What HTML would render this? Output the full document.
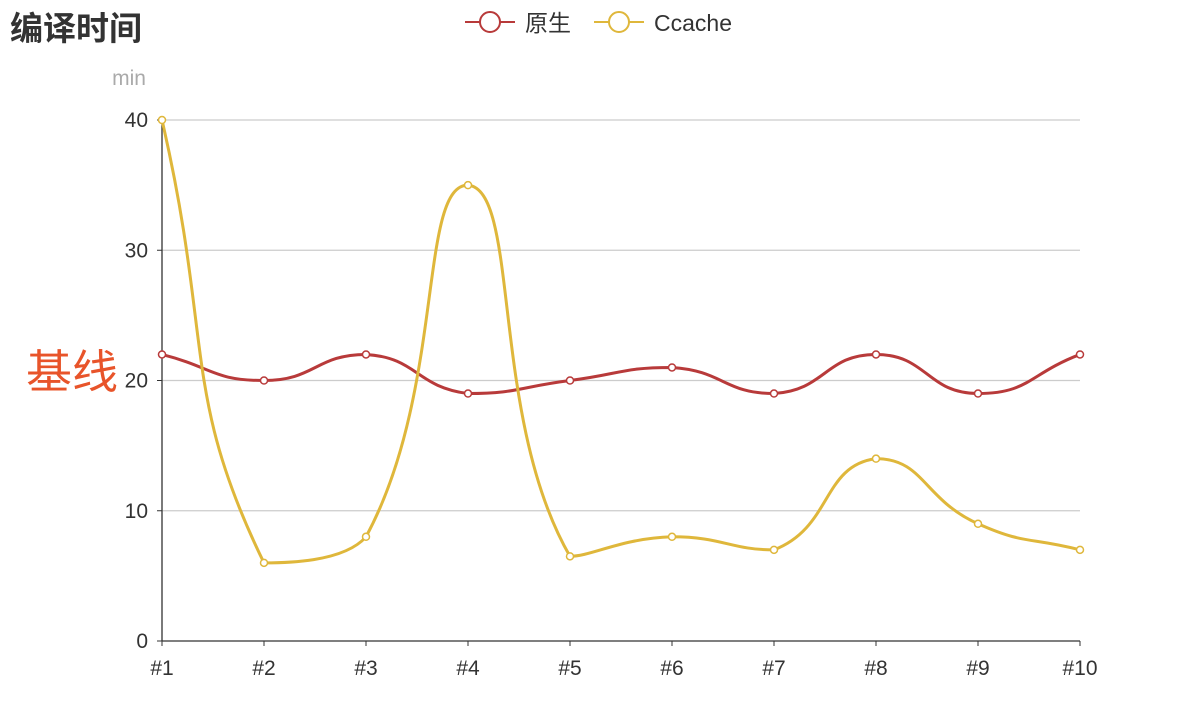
<!DOCTYPE html>
<html><head><meta charset="utf-8"><style>
html,body{margin:0;padding:0;background:#fff;width:1194px;height:714px;overflow:hidden}
svg{display:block;font-family:"Liberation Sans","Noto Sans CJK SC",sans-serif}
</style></head><body>
<svg id="chart" width="1194" height="714">
<text x="10" y="40" font-size="33" font-weight="bold" fill="#333">编译时间</text>
<g>
 <g>
  <line x1="465" y1="22" x2="515" y2="22" stroke="#b83a3a" stroke-width="2"/>
  <circle cx="490" cy="22" r="10" fill="#fff" stroke="#b83a3a" stroke-width="2"/>
  <text x="525" y="31" font-size="23" fill="#333">原生</text>
 </g>
 <g>
  <line x1="594" y1="22" x2="644" y2="22" stroke="#dfb73b" stroke-width="2"/>
  <circle cx="619" cy="22" r="10" fill="#fff" stroke="#dfb73b" stroke-width="2"/>
  <text x="654" y="31" font-size="23" fill="#333">Ccache</text>
 </g>
</g>
<text x="129" y="85" font-size="21" fill="#aaa" text-anchor="middle">min</text>
<text x="26" y="388" font-size="46" fill="#e8542a">基线</text>
<g id="grid"></g><g id="axes"></g><g id="series"></g>
</svg>
<script>
const categories=["#1","#2","#3","#4","#5","#6","#7","#8","#9","#10"];
const nativeValues=[22,20,22,19,20,21,19,22,19,22];
const ccacheValues=[40,6,8,35,6.5,8,7,14,9,7];
const yTicks=[0,10,20,30,40];
const NS="http://www.w3.org/2000/svg";
const X0=162,X1=1080,Y0=641,Y1=120,YMAX=40;
const xs=i=>X0+(X1-X0)*i/(categories.length-1);
const ys=v=>Y0-(Y0-Y1)*v/YMAX;
function mk(tag,attrs,parent){const e=document.createElementNS(NS,tag);for(const k in attrs)e.setAttribute(k,attrs[k]);parent.appendChild(e);return e;}
const grid=document.getElementById('grid'),axes=document.getElementById('axes'),ser=document.getElementById('series');
yTicks.forEach(t=>{
 if(t>0){const g=mk('line',{x1:X0,x2:X1,y1:ys(t),y2:ys(t),stroke:'#ccc','stroke-width':1.3},grid);
 
 }
 const tk=mk('line',{x1:X0-5,x2:X0,y1:ys(t),y2:ys(t),stroke:'#333'},axes);
 
 
 const tx=mk('text',{x:X0-14,y:ys(t)+7,'font-size':21,fill:'#333','text-anchor':'end'},axes);tx.textContent=t;
 
 
});
const ya=mk('line',{x1:X0,x2:X0,y1:Y1,y2:Y0,stroke:'#333','stroke-width':1.3},axes);


const xa=mk('line',{x1:X0,x2:X1,y1:Y0,y2:Y0,stroke:'#333','stroke-width':1.3},axes);


categories.forEach((c,i)=>{
 const tk=mk('line',{x1:xs(i),x2:xs(i),y1:Y0,y2:Y0+5,stroke:'#333'},axes);
 
 
 const tx=mk('text',{x:xs(i),y:Y0+34,'font-size':21,fill:'#333','text-anchor':'middle'},axes);tx.textContent=c;
 
 
});
function clamp(v,a,b){const lo=Math.min(a,b),hi=Math.max(a,b);return Math.max(lo,Math.min(hi,v));}
function smoothPath(pts,s){
 let d=`M${pts[0][0]},${pts[0][1]}`;const cps=[];
 for(let i=0;i<pts.length;i++){
  const p=pts[i],pr=pts[i-1]||p,nx=pts[i+1]||p;
  const vx=nx[0]-pr[0],vy=nx[1]-pr[1];
  const d0=Math.hypot(p[0]-pr[0],p[1]-pr[1]),d1=Math.hypot(nx[0]-p[0],nx[1]-p[1]);
  const t=d0+d1||1;
  const c0=[p[0]-vx*s*d0/t,clamp(p[1]-vy*s*d0/t,p[1],pr[1])];
  const c1=[p[0]+vx*s*d1/t,clamp(p[1]+vy*s*d1/t,p[1],nx[1])];
  cps.push([c0,c1]);
 }
 for(let i=1;i<pts.length;i++){const a=cps[i-1][1],b=cps[i][0];d+=` C${a[0]},${a[1]} ${b[0]},${b[1]} ${pts[i][0]},${pts[i][1]}`;}
 return d;
}
function drawSeries(vals,color,name){
 const pts=vals.map((v,i)=>[xs(i),ys(v)]);
 const p=mk('path',{d:smoothPath(pts,0.5),fill:'none',stroke:color,'stroke-width':3},ser);
 
 
 pts.forEach(q=>{const c=mk('circle',{cx:q[0],cy:q[1],r:3.5,fill:'#fff',stroke:color,'stroke-width':1.5},ser);
  
  });
}
drawSeries(nativeValues,'#b83a3a','native');
drawSeries(ccacheValues,'#dfb73b','ccache');
</script>
</body></html>
